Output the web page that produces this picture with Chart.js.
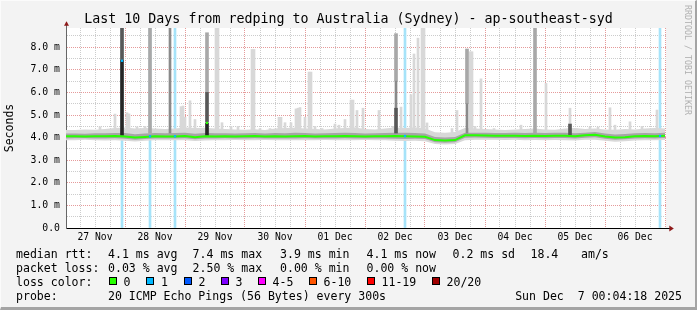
<!DOCTYPE html>
<html>
<head>
<meta charset="utf-8">
<script src="https://cdn.jsdelivr.net/npm/chart.js@4/dist/chart.umd.min.js"></script>
<style>
html,body{margin:0;padding:0;background:#f3f3f3;}
#wrap{position:relative;width:697px;height:310px;overflow:hidden;background:#f3f3f3;font-family:'DejaVu Sans Mono',monospace;color:#000;}
#frame{position:absolute;left:0;top:0;width:697px;height:310px;box-sizing:border-box;border-style:solid;border-width:1px 2px 3px 1px;border-color:#fbfbfb #a4a4a4 #a4a4a4 #fbfbfb;pointer-events:none;}
canvas{position:absolute;left:0;top:0;}
.t{position:absolute;white-space:pre;font-size:11.55px;line-height:14px;}
#title{position:absolute;left:0;top:11px;width:697px;text-align:center;font-size:13.3px;line-height:16px;white-space:pre;}
#rrd{position:absolute;left:693px;top:5px;transform:rotate(90deg);transform-origin:0 0;font-size:8.3px;line-height:10px;color:#b0b0b0;white-space:pre;}
.box{position:absolute;width:6px;height:6px;border:1px solid #000;}
</style>
</head>
<body>
<div id="wrap">
  <canvas id="c" width="697" height="310"></canvas>
  <div id="title">Last 10 Days from redping to Australia (Sydney) - ap-southeast-syd</div>
  <div id="rrd">RRDTOOL / TOBI OETIKER</div>
  <div id="legend"></div>
  <div id="frame"></div>
</div>
<script>
// ---------------- data ----------------
const dayLabels = ['27 Nov','28 Nov','29 Nov','30 Nov','01 Dec','02 Dec','03 Dec','04 Dec','05 Dec','06 Dec'];
const dayLabelHours = [12,36,60,84,108,132,156,180,204,228];
const gridHours = [6,12,18,24,30,36,42,48,54,60,66,72,78,84,90,96,102,108,114,120,
                   126,132,138,144,150,156,162,168,174,180,186,192,198,204,210,216,222,228,234,240];
const yTickValues = [0,0.5,1,1.5,2,2.5,3,3.5,4,4.5,5,5.5,6,6.5,7,7.5,8,8.5];

// base smoke band and median, hours since 27 Nov 00:00
const bandHours = [0,4,8,12,16,20,24,28,32,36,
  40,44,48,52,56,60,64,68,72,76,
  80,84,88,92,96,100,104,108,112,116,
  120,124,128,132,136,140,144,148,152,156,
  160,164,168,172,176,180,184,188,192,196,
  200,204,208,212,216,220,224,228,232,236,
  240];
const medianRtt = [4.06,4.06,4.05,4.06,4.06,4.07,4.05,4.00,4.03,4.06,
  4.05,4.05,4.07,4.02,4.06,4.05,4.06,4.05,4.06,4.07,
  4.05,4.06,4.05,4.06,4.07,4.05,4.06,4.06,4.07,4.06,
  4.05,4.06,4.06,4.07,4.06,4.05,4.04,3.89,3.87,3.89,
  4.10,4.10,4.09,4.08,4.08,4.08,4.07,4.08,4.07,4.08,
  4.08,4.06,4.10,4.13,4.05,4.00,4.02,4.06,4.07,4.06,
  4.08];
const smokeLow = [3.88,3.88,3.90,3.88,3.87,3.88,3.86,3.83,3.86,3.88,
  3.88,3.88,3.88,3.85,3.87,3.88,3.88,3.89,3.88,3.88,
  3.89,3.88,3.88,3.88,3.88,3.88,3.89,3.88,3.88,3.88,
  3.89,3.88,3.88,3.86,3.85,3.86,3.84,3.72,3.70,3.72,
  3.88,3.90,3.90,3.90,3.89,3.90,3.88,3.89,3.88,3.89,
  3.88,3.87,3.90,3.90,3.86,3.82,3.84,3.87,3.88,3.88,
  3.89];
const smokeHigh = [4.33,4.34,4.36,4.35,4.38,4.42,4.45,4.40,4.43,4.40,
  4.38,4.40,4.45,4.42,4.44,4.40,4.38,4.36,4.35,4.37,
  4.34,4.40,4.42,4.44,4.40,4.38,4.36,4.40,4.42,4.45,
  4.38,4.36,4.40,4.45,4.42,4.45,4.40,4.24,4.22,4.25,
  4.42,4.40,4.38,4.36,4.34,4.36,4.38,4.40,4.36,4.35,
  4.40,4.42,4.38,4.40,4.36,4.35,4.38,4.36,4.40,4.42,
  4.40];
const coreLow = [3.96,3.97,3.97,3.96,3.96,3.97,3.95,3.91,3.94,3.96,
  3.96,3.96,3.97,3.93,3.96,3.96,3.97,3.96,3.96,3.97,
  3.96,3.96,3.96,3.96,3.97,3.96,3.96,3.96,3.97,3.96,
  3.96,3.96,3.96,3.95,3.94,3.95,3.94,3.79,3.77,3.79,
  3.99,4.00,3.99,3.98,3.98,3.98,3.97,3.98,3.97,3.98,
  3.98,3.96,3.99,4.02,3.95,3.91,3.93,3.96,3.97,3.96,
  3.98];
const coreHigh = [4.18,4.18,4.17,4.19,4.19,4.20,4.20,4.15,4.18,4.20,
  4.19,4.20,4.22,4.17,4.20,4.19,4.19,4.18,4.19,4.20,
  4.18,4.20,4.19,4.21,4.20,4.18,4.19,4.20,4.21,4.20,
  4.18,4.19,4.20,4.22,4.21,4.20,4.18,4.03,4.01,4.03,
  4.22,4.22,4.21,4.20,4.20,4.21,4.20,4.21,4.20,4.21,
  4.21,4.19,4.22,4.25,4.18,4.14,4.16,4.19,4.20,4.19,
  4.21];

// light smoke spikes (base to top, ms)
const lightSpikeBase = 4.2;
const lightSpikeHours = [14,20,24.8,25.6,28.8,32,46.4,47.2,48,50,52,60.4,61.2,62.8,66.4,69.2,74.8,75.6,78,82,
  85.6,86.4,88,90.4,92.4,93.2,94,96,97.6,98.4,100,102.8,108,109.6,112,114.4,115.2,116.8,119.2,125.6,
  131.2,134.4,138.4,139.6,141.2,142.8,143.6,144.8,154.8,156.8,162,162.8,164,166.4,171.6,182.4,192.4,202,210,213.2,
  218,220,226,230.8,236.8];
const lightSpikeTops = [4.48,5.04,5.1,5.05,4.48,4.5,5.37,5.4,4.9,5.63,4.8,8.85,8.85,4.66,4.5,4.5,7.9,7.9,4.4,4.4,
  4.9,4.9,4.66,4.66,5.27,5.3,5.33,4.9,6.9,6.9,4.5,4.4,4.6,4.55,4.8,5.66,5.66,5.2,5.3,5.2,
  4.5,5.35,5.9,7.7,8.4,8.85,8.85,4.65,4.4,5.2,7.8,7.8,4.5,6.6,4.4,4.55,6.4,5.3,4.47,4.47,
  5.32,4.55,4.7,4.5,5.22];

// denser smoke segments
const midSmokeHours = [34,56.8,132.4,160.8,188];
const midSmokeLows  = [4.2,6.0,6.5,5.5,4.2];
const midSmokeHighs = [8.85,8.64,8.6,7.92,8.85];
const graySmokeHours = [42,132.4,160.8];
const graySmokeLows  = [4.2,5.3,4.2];
const graySmokeHighs = [8.85,6.5,5.5];
const darkSmokeHours = [22.8,56.8,132.4,202];
const darkSmokeLows  = [7.4,4.7,4.2,4.1];
const darkSmokeHighs = [8.85,6.0,5.3,4.6];
const blackSmokeHours = [22.8,56.8];
const blackSmokeLows  = [4.1,4.1];
const blackSmokeHighs = [7.4,4.65];

// packet loss events (1 of 20 lost)
const lossHours  = [22.8,34,44,136,238];
const lossMedian = [7.4,4.06,4.06,4.07,4.07];
const lossTop = 8.85;
// isolated median sample with 0 loss
const markHours  = [56.8];
const markMedian = [4.65];

// ---------------- legend text ----------------
const legendRows = [
  {top:247, items:[[16,'median rtt:'],[108,'4.1 ms avg'],[192.6,'7.4 ms max'],[280,'3.9 ms min'],[366.5,'4.1 ms now'],[452.5,'0.2 ms sd'],[530.5,'18.4'],[581,'am/s']]},
  {top:261, items:[[16,'packet loss:'],[108,'0.03 % avg'],[192.6,'2.50 % max'],[280,'0.00 % min'],[366.5,'0.00 % now']]},
  {top:275, items:[[16,'loss color:']]},
  {top:289, items:[[16,'probe:'],[108,'20 ICMP Echo Pings (56 Bytes) every 300s']]}
];
const lossColorLabels = ['0','1','2','3','4-5','6-10','11-19','20/20'];
const lossColors = ['#26ff00','#00b8ff','#0059ff','#7e00ff','#ff00ff','#ff5500','#ff0000','#a00000'];
const lossBoxX = [108.5,146,183.5,220.5,257.5,308.5,366.5,431.5];

const leg = document.getElementById('legend');
legendRows.forEach(r => r.items.forEach(([x, s]) => {
  const d = document.createElement('div'); d.className = 't';
  d.style.left = x + 'px'; d.style.top = r.top + 'px'; d.textContent = s; leg.appendChild(d);
}));
lossColorLabels.forEach((s, i) => {
  const b = document.createElement('div'); b.className = 'box';
  b.style.left = lossBoxX[i] + 'px'; b.style.top = '277px'; b.style.background = lossColors[i]; leg.appendChild(b);
  const d = document.createElement('div'); d.className = 't';
  d.style.left = (lossBoxX[i] + 15) + 'px'; d.style.top = '275px'; d.textContent = s; leg.appendChild(d);
});
const dt = document.createElement('div'); dt.className = 't';
dt.style.right = '15px'; dt.style.top = '289px'; dt.textContent = 'Sun Dec  7 00:04:18 2025'; leg.appendChild(dt);

// ---------------- chart ----------------
const RED_GRID = '#e59a9a';
const GRAY_GRID = '#cccccc';
const FONT = "'DejaVu Sans Mono', monospace";
const pts = (xs, ys) => xs.map((x, i) => ({x: x, y: ys[i]}));
const bars = (xs, lo, hi) => xs.map((x, i) => ({x: x, y: [lo[i], hi[i]]}));

const plotBg = {
  id: 'plotBg',
  beforeDraw(chart) {
    const {ctx, chartArea: a} = chart;
    ctx.save(); ctx.fillStyle = '#ffffff';
    ctx.fillRect(a.left, a.top, a.right - a.left, a.bottom - a.top);
    ctx.restore();
  }
};
const axisArrows = {
  id: 'axisArrows',
  afterDraw(chart) {
    const {ctx, chartArea: a} = chart;
    ctx.save();
    ctx.lineWidth = 1;
    ctx.strokeStyle = '#000';
    ctx.beginPath(); ctx.moveTo(a.right - 1, a.bottom + 0.5); ctx.lineTo(a.right + 4, a.bottom + 0.5); ctx.stroke();
    ctx.strokeStyle = '#666';
    ctx.beginPath(); ctx.moveTo(a.left + 0.5, a.top + 1); ctx.lineTo(a.left + 0.5, a.top - 3); ctx.stroke();
    ctx.fillStyle = '#8e1a1a';
    ctx.beginPath(); ctx.moveTo(a.right + 3.3, a.bottom - 2.5); ctx.lineTo(a.right + 3.3, a.bottom + 3.5); ctx.lineTo(a.right + 7.8, a.bottom + 0.5); ctx.closePath(); ctx.fill();
    ctx.beginPath(); ctx.moveTo(a.left - 2, a.top - 2.3); ctx.lineTo(a.left + 3, a.top - 2.3); ctx.lineTo(a.left + 0.5, a.top - 6.8); ctx.closePath(); ctx.fill();
    ctx.restore();
  }
};

const barDs = (data, color, thick, order) => ({
  type: 'bar', data: data, backgroundColor: color, borderWidth: 0,
  barThickness: thick, grouped: false, order: order
});

new Chart(document.getElementById('c'), {
  type: 'line',
  data: {
    datasets: [
      // median markers
      {type:'line', data: pts(lossHours, lossMedian), showLine:false, pointStyle:'rect', pointRadius:1.6,
       pointBackgroundColor:'#00b8ff', pointBorderWidth:0, order:0},
      {type:'line', data: pts(markHours, markMedian), showLine:false, pointStyle:'rect', pointRadius:1.6,
       pointBackgroundColor:'#26ff00', pointBorderWidth:0, order:0},
      // median line
      {type:'line', data: pts(bandHours, medianRtt), borderColor:'#26ff00', borderWidth:2,
       pointRadius:0, tension:0, fill:false, order:1},
      // dense smoke
      barDs(bars(blackSmokeHours, blackSmokeLows, blackSmokeHighs), '#262626', 3, 2),
      barDs(bars(darkSmokeHours, darkSmokeLows, darkSmokeHighs), '#585858', 3, 3),
      barDs(bars(graySmokeHours, graySmokeLows, graySmokeHighs), '#8a8a8a', 2, 4),
      barDs(bars(midSmokeHours, midSmokeLows, midSmokeHighs), '#a8a8a8', 3, 5),
      // core band
      {type:'line', data: pts(bandHours, coreLow), borderWidth:0, pointRadius:0, tension:0, fill:false, order:6},
      {type:'line', data: pts(bandHours, coreHigh), borderWidth:0, pointRadius:0, tension:0,
       fill:'-1', backgroundColor:'#a6a6a6', order:6},
      // light smoke spikes
      barDs(lightSpikeHours.map((x, i) => ({x: x, y: [lightSpikeBase, lightSpikeTops[i]]})), '#d8d8d8', 2, 7),
      // outer band
      {type:'line', data: pts(bandHours, smokeLow), borderWidth:0, pointRadius:0, tension:0, fill:false, order:8},
      {type:'line', data: pts(bandHours, smokeHigh), borderWidth:0, pointRadius:0, tension:0,
       fill:'-1', backgroundColor:'#d8d8d8', order:8},
      // loss bars
      barDs(lossHours.map(x => ({x: x, y: [0, lossTop]})), '#a6e3f9', 2, 10)
    ]
  },
  options: {
    responsive: false, animation: false, devicePixelRatio: 1,
    layout: {padding: {left: 0, right: 31, top: 28, bottom: 62}},
    plugins: {legend: {display: false}, tooltip: {enabled: false}, title: {display: false}},
    scales: {
      x: {
        type: 'linear', min: 0.4, max: 240.4, offset: false,
        afterBuildTicks: s => { s.ticks = gridHours.map(v => ({value: v})); },
        afterFit: s => { s.height = 20; },
        grid: {offset: false, drawTicks: false, lineWidth: 1,
               color: c => (c.tick && c.tick.value % 24 === 0) ? RED_GRID : GRAY_GRID},
        border: {display: true, color: '#000', width: 1, dash: [1, 1]},
        ticks: {autoSkip: false, maxRotation: 0, minRotation: 0, padding: 4, color: '#000',
                font: {family: FONT, size: 9.7},
                callback: v => { const i = dayLabelHours.indexOf(v); return i >= 0 ? dayLabels[i] : ''; }}
      },
      y: {
        type: 'linear', min: 0, max: 8.85,
        afterBuildTicks: s => { s.ticks = yTickValues.map(v => ({value: v})); },
        afterFit: s => { s.width = 66; },
        grid: {drawTicks: false, lineWidth: 1,
               color: c => (c.tick && c.tick.value % 1 === 0) ? RED_GRID : GRAY_GRID},
        border: {display: true, color: '#666', width: 1, dash: [1, 1]},
        title: {display: true, text: 'Seconds', color: '#000', font: {family: FONT, size: 11.5}, padding: {top: 3, bottom: 0}},
        ticks: {autoSkip: false, padding: 6, color: '#000', font: {family: FONT, size: 9.8},
                callback: v => v === 0 ? '0.0' : (v % 1 === 0 ? v.toFixed(1) + ' m' : '')}
      }
    }
  },
  plugins: [plotBg, axisArrows]
});
</script>
</body>
</html>
